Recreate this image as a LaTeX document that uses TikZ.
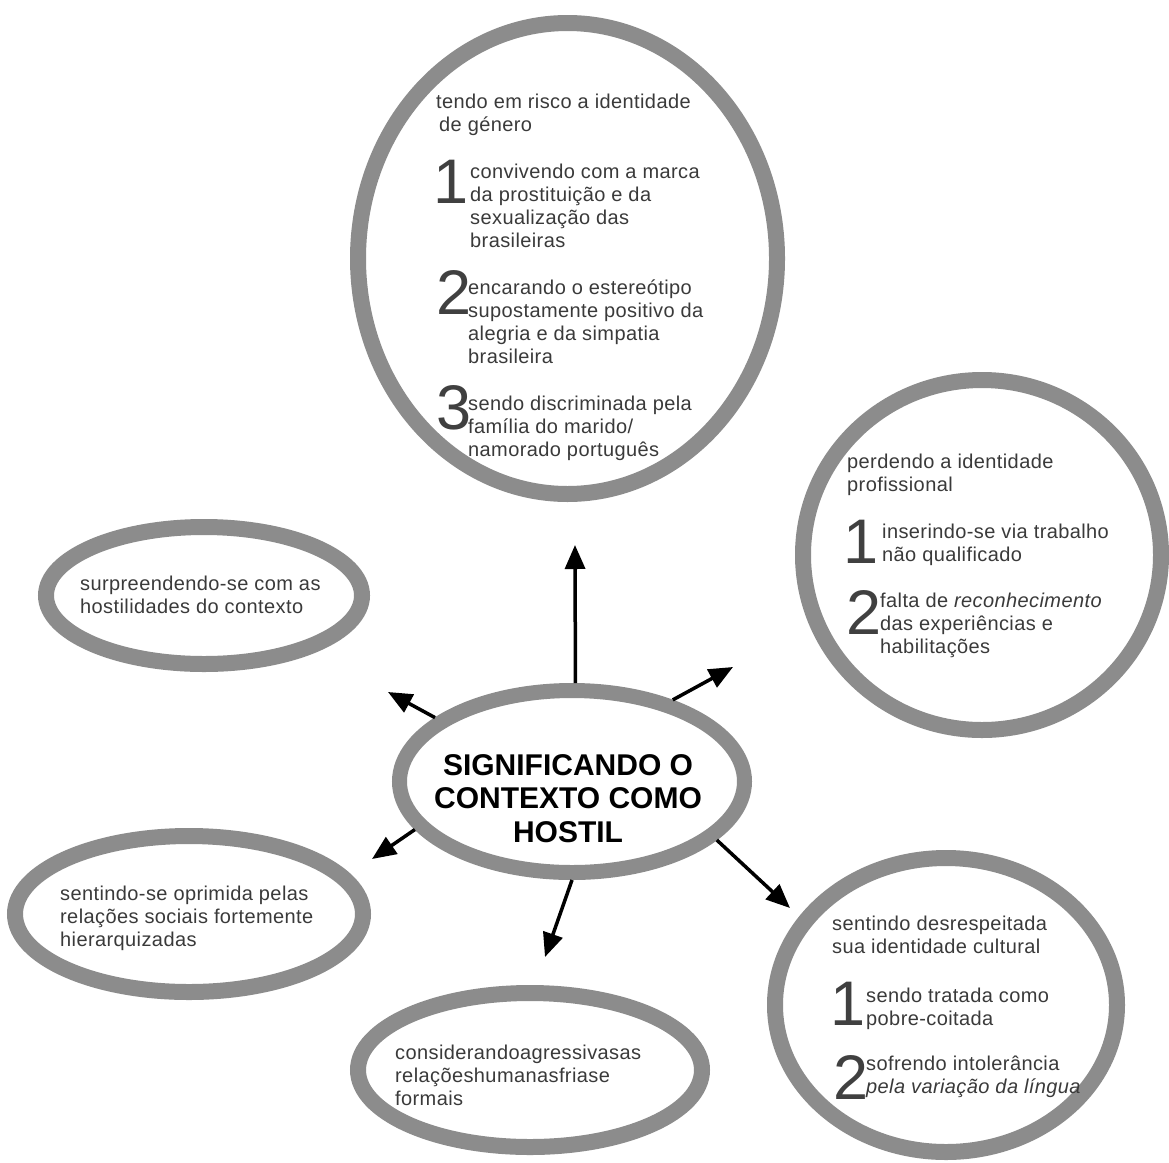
\documentclass[tikz,border=0pt]{standalone}
\usepackage{fontspec}
\setmainfont{Liberation Sans}
\newfontfamily\bodyfont[LetterSpace=2]{Liberation Sans}
\usetikzlibrary{shapes.geometric,arrows.meta}
\definecolor{ringgray}{RGB}{140,140,140}
\definecolor{txtgray}{RGB}{58,58,58}
\definecolor{numgray}{RGB}{64,64,64}
\begin{document}
\begin{tikzpicture}[x=1pt,y=-1pt,
  ring/.style={draw=ringgray, line width=16pt, ellipse, inner sep=0pt, fill=white},
  body/.style={anchor=north west, inner sep=0pt, align=left, text=txtgray,
    font=\bodyfont\fontsize{20}{23}\selectfont},
  num/.style={anchor=north west, inner sep=0pt, text=numgray,
    font=\fontsize{63}{63}\selectfont},
  arr/.style={line width=3.5pt, -{Triangle[length=24pt,width=20pt]}}]
\useasboundingbox[fill=white] (0,0) rectangle (1169,1162);

% rings
\node[ring, minimum width=419, minimum height=471] (top) at (567.5,258.5) {};
\node[ring, minimum width=358, minimum height=350] (prof) at (982,555) {};
\node[ring, minimum width=342, minimum height=294] (cult) at (946,1005) {};
\node[ring, minimum width=316, minimum height=137] (surp) at (204,595.5) {};
\node[ring, minimum width=348, minimum height=156] (opr) at (189,914) {};
\node[ring, minimum width=344, minimum height=154] (agr) at (530,1070) {};
\node[ring, line width=15pt, minimum width=345, minimum height=182] (c) at (572,781.5) {};
\node[align=center, inner sep=0pt, font=\bfseries\fontsize{30}{33.5}\selectfont] (ct) at (568,798.5) {SIGNIFICANDO O\\CONTEXTO COMO\\HOSTIL};

% top ellipse text
\node[body] (t0) at (436,93.5) {tendo em risco a identidade\\\hspace*{3pt}de género};
\node[num] (t1n) at (433,160) {1};
\node[body] (t1) at (470,163.5) {convivendo com a marca\\da prostituição e da\\sexualização das\\brasileiras};
\node[num] (t2n) at (436,270) {2};
\node[body] (t2) at (468,279.5) {encarando o estereótipo\\supostamente positivo da\\alegria e da simpatia\\brasileira};
\node[num] (t3n) at (436,385) {3};
\node[body] (t3) at (468,395.5) {sendo discriminada pela\\família do marido/\\namorado português};

% right ellipse text
\node[body] (p0) at (847,453.5) {perdendo a identidade\\profissional};
\node[num] (p1n) at (843,520) {1};
\node[body] (p1) at (882,523.5) {inserindo-se via trabalho\\não qualificado};
\node[num] (p2n) at (846,590) {2};
\node[body] (p2) at (880,592.5) {falta de \textit{reconhecimento}\\das experiências e\\habilitações};

% bottom right ellipse text
\node[body] (d0) at (832,915.5) {sentindo desrespeitada\\sua identidade cultural};
\node[num] (d1n) at (830,982) {1};
\node[body] (d1) at (866,987.5) {sendo tratada como\\pobre-coitada};
\node[num] (d2n) at (833,1055) {2};
\node[body] (d2) at (866,1055.5) {sofrendo intolerância\\\textit{pela variação da língua}};

% left / bottom ellipse texts
\node[body] (s0) at (80,575.5) {surpreendendo-se com as\\hostilidades do contexto};
\node[body] (o0) at (60,886) {sentindo-se oprimida pelas\\relações sociais fortemente\\hierarquizadas};
\node[body] (a0) at (395,1044.5) {considerandoagressivasas\\relaçõeshumanasfriase\\formais};

% arrows
\coordinate (aN) at (575,545);
\coordinate (aNE) at (733,667);
\coordinate (aNW) at (388,692);
\coordinate (aSW) at (372,859);
\coordinate (aS) at (545,957);
\coordinate (aSE) at (790,908);
\draw[arr] (c.88.2) -- (aN);
\draw[arr] (c.39.1) -- (aNE);
\draw[arr] (c.155.3) -- (aNW);
\draw[arr] (c.197.7) -- (aSW);
\draw[arr] (c.270) -- (aS);
\draw[arr] (c.338.9) -- (aSE);
\end{tikzpicture}
\end{document}
